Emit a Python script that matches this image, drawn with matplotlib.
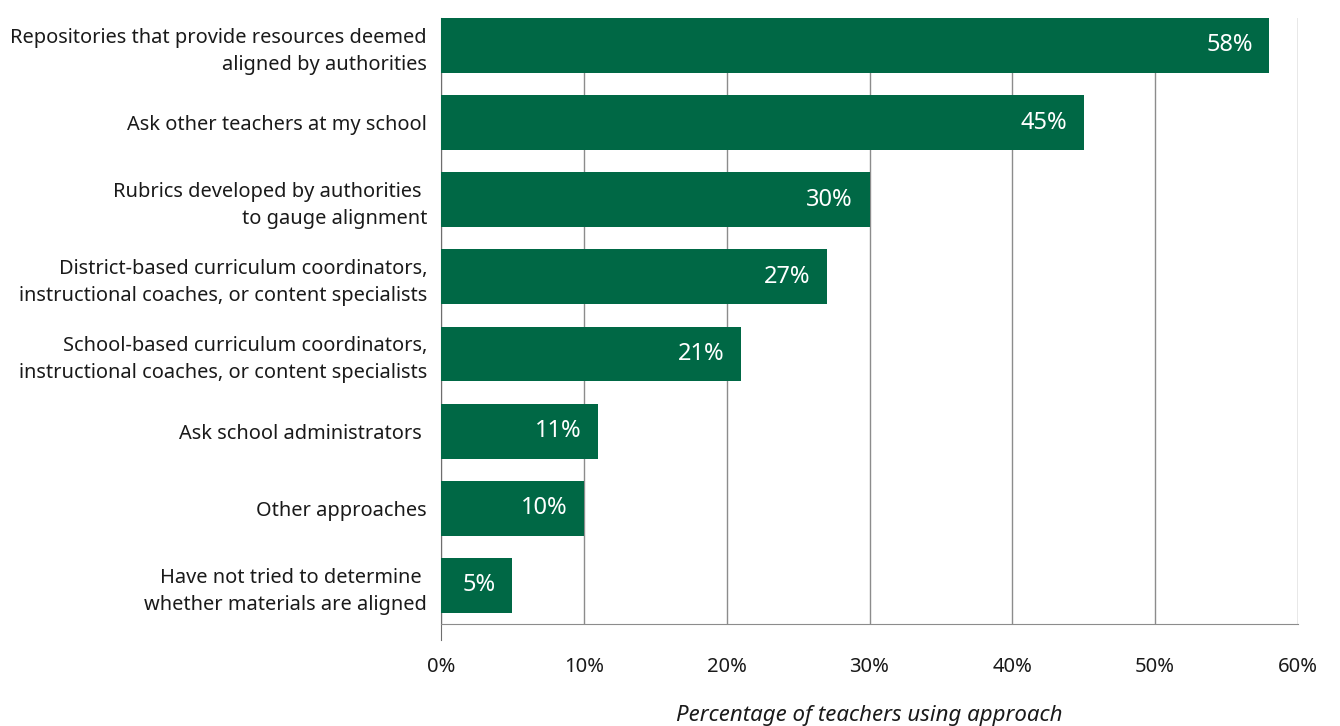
import matplotlib.pyplot as plt
from matplotlib.ticker import FuncFormatter

plt.rcParams['font.family'] = ['Noto Sans', 'DejaVu Sans']

# data
categories = [
    "Repositories that provide resources deemed\naligned by authorities",
    "Ask other teachers at my school",
    "Rubrics developed by authorities \nto gauge alignment",
    "District-based curriculum coordinators,\ninstructional coaches, or content specialists",
    "School-based curriculum coordinators,\ninstructional coaches, or content specialists",
    "Ask school administrators ",
    "Other approaches",
    "Have not tried to determine \nwhether materials are aligned",
]
values = [58, 45, 30, 27, 21, 11, 10, 5]
xticks = [0, 10, 20, 30, 40, 50, 60]
xlabel = "Percentage of teachers using approach"

green = "#006845"
grid_c = "#8c8c8c"

fig = plt.figure(figsize=(13.4, 7.26), dpi=100)
ax = fig.add_axes([441 / 1340, 1 - 624 / 726, (1298 - 441) / 1340, (624 - 18) / 726])

ypos = list(range(len(values)))
h = 0.71
ax.barh(ypos, values, height=h, color=green, zorder=3)

for y, v in zip(ypos, values):
    ax.annotate(f"{v}%", xy=(v, y), xytext=(-12, 0), textcoords="offset points",
                ha="right", va="center", color="white", fontsize=17, zorder=4)

ax.set_xlim(0, 60)
ax.set_ylim(7 + h / 2 + 0.145, -h / 2)
ax.set_yticks(ypos)
ax.set_yticklabels(categories, fontsize=14.4, color="#1a1a1a", linespacing=1.45)
ax.tick_params(axis="y", length=0, pad=10)

ax.set_xticks(xticks)
ax.xaxis.set_major_formatter(FuncFormatter(lambda x, p: f"{int(x)}%"))
ax.tick_params(axis="x", length=0, pad=24, labelsize=14.5, labelcolor="#1a1a1a")
ax.set_xlabel(xlabel, fontsize=16, style="italic", color="#1a1a1a", labelpad=20)

ax.grid(axis="x", color=grid_c, linewidth=1, zorder=0)
ax.set_axisbelow(True)

for s in ["top", "right"]:
    ax.spines[s].set_visible(False)
ax.spines["bottom"].set_color(grid_c)
ax.spines["left"].set_color("#6e6e6e")
ax.spines["left"].set_bounds(7 + h / 2 + 0.35, -h / 2)

fig.savefig("out.png", dpi=100)
